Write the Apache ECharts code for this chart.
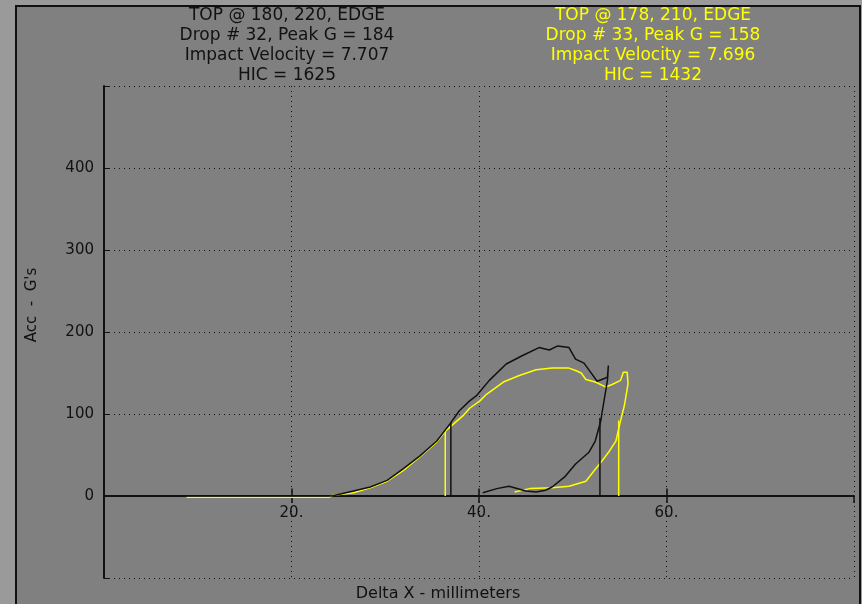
<!DOCTYPE html>
<html>
<head>
<meta charset="utf-8">
<title>Drop test</title>
<script src="https://cdn.jsdelivr.net/npm/echarts@6/dist/echarts.min.js"></script>
<style>
  html, body { margin: 0; padding: 0; background: #9a9a9a; }
  #main { width: 862px; height: 604px; }
</style>
</head>
<body>
<div id="main"></div>
<script>
// Drop # 32 (black)
var blackX = [0, 24.3, 24.5, 26.6, 28.4, 30.2, 31.9, 33.7, 35.5, 36.9, 37.9, 39.0, 39.7, 41.1, 42.9, 44.6, 46.4, 47.5, 48.4, 49.6, 50.3, 51.2, 51.9, 52.6, 53.3, 53.7, 53.8, 53.7, 53.1, 53.0, 52.4, 51.7, 50.3, 49.2, 47.8, 47.1, 46.1, 45.0, 43.2, 41.9, 40.4];
var blackG = [0, 0, 2, 6, 11, 19, 33, 49, 67, 88, 104, 116, 122, 141, 161, 171, 181, 178, 183, 181, 167, 162, 151, 140, 143, 145, 159, 141, 100, 92, 67, 53, 39, 24, 11, 7, 5, 6, 12, 9, 4];
// Drop # 33 (yellow)
var yellowX = [8.8, 24.0, 24.5, 26.6, 28.4, 30.2, 31.9, 33.7, 35.5, 36.5, 38.3, 39.0, 40.1, 40.8, 42.6, 44.3, 46.1, 47.8, 49.6, 50.3, 50.9, 51.4, 52.4, 53.5, 54.2, 55.1, 55.4, 55.8, 55.9, 55.5, 55.1, 54.6, 53.8, 53.0, 52.3, 51.4, 49.6, 47.8, 45.4, 43.8];
var yellowG = [-1.5, -1.5, 1, 4, 10, 18, 31, 48, 66, 80, 98, 107, 116, 124, 139, 147, 154, 156, 156, 153, 150, 142, 139, 133, 136, 141, 151, 151, 137, 110, 92, 67, 53, 41, 31, 18, 12, 10, 9, 5];
// vertical markers
var blackMarkX = [37.0, 52.9];
var blackMarkG = [90, 95];
var yellowMarkX = [36.4, 54.9];
var yellowMarkG = [80, 92];

var xTicks = [20, 40, 60];
var yTicks = [0, 100, 200, 300, 400];

var blackTitle = ['TOP @ 180, 220, EDGE', 'Drop # 32, Peak G = 184', 'Impact Velocity = 7.707', 'HIC = 1625'];
var yellowTitle = ['TOP @ 178, 210, EDGE', 'Drop # 33, Peak G = 158', 'Impact Velocity = 7.696', 'HIC = 1432'];

var FONT = 'DejaVu Sans';
var GRID_TOP = 86, GRID_BOTTOM = 26, H = 604;
var Y_MIN = -100, Y_MAX = 500;

function zip(xs, ys){
  var res = [];
  for(var i = 0; i < xs.length; i++){
    res.push([xs[i], ys[i]]);
  }
  return res;
}

function markSeries(xs, gs, color){
  var list = [];
  for(var i = 0; i < xs.length; i++){
    list.push({
      type: 'line',
      data: [[xs[i], 0], [xs[i], gs[i]]],
      showSymbol: false,
      silent: true,
      lineStyle: { color: color, width: 1.5 },
      z: 3
    });
  }
  return list;
}

function titleTexts(lines, cx, color){
  var res = [];
  for(var i = 0; i < lines.length; i++){
    res.push({
      type: 'text',
      x: cx,
      y: 16 + i * 19.7,
      style: {
        text: lines[i],
        fill: color,
        font: '17px "' + FONT + '"',
        textAlign: 'center',
        textVerticalAlign: 'middle'
      }
    });
  }
  return res;
}

// upper half of the x ticks (the axis only draws them one way)
function tickMarks(){
  var res = [];
  for(var i = 0; i < xTicks.length; i++){
    res.push([{ coord: [xTicks[i], 0] }, { coord: [xTicks[i], 9] }]);
  }
  return res;
}

// move x axis from the grid bottom up to G = 0
var plotH = H - GRID_TOP - GRID_BOTTOM;
var zeroOffset = -plotH * (0 - Y_MIN) / (Y_MAX - Y_MIN);

var dotted = { color: '#111', width: 1, type: [1, 4] };

var graphics = [{
  type: 'rect',
  shape: { x: 16, y: 6, width: 844, height: 610 },
  style: { fill: '#808080', stroke: '#111', lineWidth: 2 },
  z: -10
}, {
  type: 'text',
  x: 32,
  y: 305,
  rotation: Math.PI / 2,
  style: {
    text: 'Acc  -  G\'s',
    fill: '#111',
    font: '15px "' + FONT + '"',
    textAlign: 'center',
    textVerticalAlign: 'middle'
  }
}, {
  type: 'text',
  x: 438,
  y: 594,
  style: {
    text: 'Delta X - millimeters',
    fill: '#111',
    font: '16px "' + FONT + '"',
    textAlign: 'center',
    textVerticalAlign: 'middle'
  }
}];
graphics = graphics.concat(titleTexts(blackTitle, 287, '#111'));
graphics = graphics.concat(titleTexts(yellowTitle, 653, '#ffff00'));

var series = [{
  type: 'line',
  data: zip(yellowX, yellowG),
  showSymbol: false,
  lineStyle: { color: '#ffff00', width: 1.5 },
  z: 3
}, {
  type: 'line',
  data: zip(blackX, blackG),
  showSymbol: false,
  lineStyle: { color: '#111', width: 1.5 },
  markLine: {
    silent: true,
    symbol: 'none',
    animation: false,
    label: { show: false },
    lineStyle: { color: '#111', width: 1.5, type: 'solid' },
    data: tickMarks()
  },
  z: 4
}];
series = series.concat(markSeries(yellowMarkX, yellowMarkG, '#ffff00'));
series = series.concat(markSeries(blackMarkX, blackMarkG, '#111'));

window.onload = function(){
  var myChart = echarts.init(document.getElementById('main'));
  myChart.setOption({
    backgroundColor: '#9a9a9a',
    animation: false,
    graphic: graphics,
    grid: { left: 104, top: GRID_TOP, right: 8, bottom: GRID_BOTTOM, containLabel: false },
    xAxis: {
      type: 'value',
      min: 0,
      max: 80,
      interval: 20,
      offset: zeroOffset,
      axisLine: { show: true, onZero: false, lineStyle: { color: '#111', width: 2 } },
      axisTick: { show: true, length: 7, lineStyle: { color: '#111', width: 1.5 } },
      axisLabel: {
        color: '#111',
        fontFamily: FONT,
        fontSize: 15,
        margin: 10,
        formatter: function(v){
          return xTicks.indexOf(v) >= 0 ? v + '.' : '';
        }
      },
      splitLine: { show: true, lineStyle: dotted }
    },
    yAxis: {
      type: 'value',
      min: Y_MIN,
      max: Y_MAX,
      interval: 100,
      axisLine: { show: true, onZero: false, lineStyle: { color: '#111', width: 2 } },
      axisTick: { show: true, inside: true, length: 6, lineStyle: { color: '#111' } },
      axisLabel: {
        color: '#111',
        fontFamily: FONT,
        fontSize: 15,
        margin: 10,
        formatter: function(v){
          return yTicks.indexOf(v) >= 0 ? String(v) : '';
        }
      },
      splitLine: { show: true, lineStyle: dotted }
    },
    series: series
  });
};
</script>
</body>
</html>
